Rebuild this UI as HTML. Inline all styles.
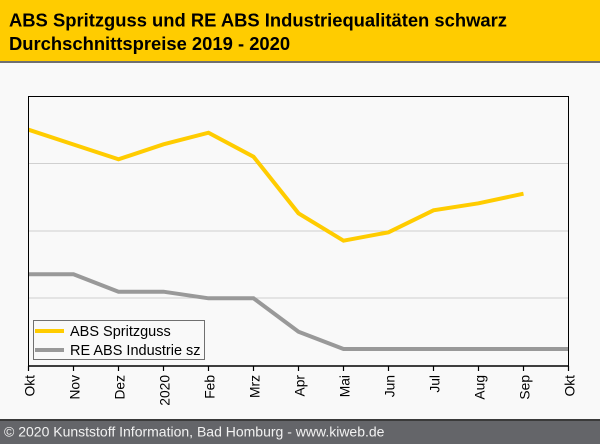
<!DOCTYPE html>
<html><head><meta charset="utf-8"><style>
html,body{margin:0;padding:0;background:#f9f9f9;}
svg{display:block;}
text{font-family:"Liberation Sans",Arial,sans-serif;}
</style></head><body>
<svg width="600" height="444" viewBox="0 0 600 444" xmlns="http://www.w3.org/2000/svg">
<rect x="0" y="0" width="600" height="444" fill="#f9f9f9"/>
<rect x="0" y="0" width="600" height="61" fill="#ffcc00"/>
<rect x="0" y="61" width="600" height="2" fill="#707070"/>
<text x="9" y="26.5" font-size="18.4" font-weight="bold" fill="#000">ABS Spritzguss und RE ABS Industriequalitäten schwarz</text>
<text x="9" y="50" font-size="18.4" font-weight="bold" fill="#000">Durchschnittspreise 2019 - 2020</text>
<g stroke="#d0d0d0" stroke-width="1">
<line x1="29" y1="163.5" x2="568" y2="163.5"/>
<line x1="29" y1="231" x2="568" y2="231"/>
<line x1="29" y1="298" x2="568" y2="298"/>
</g>
<polyline fill="none" stroke="#ffcc00" stroke-width="4" stroke-linejoin="miter" points="28.5,129.7 73.5,144.5 118.5,159.3 163.5,144.3 208.5,132.7 253.5,156.7 298.5,213.3 343.5,240.7 388.5,232.3 433.5,210.3 478.5,203.3 523.5,193.7"/>
<polyline fill="none" stroke="#999999" stroke-width="4" points="28.5,274.3 73.5,274.3 118.5,291.7 163.5,291.7 208.5,298.3 253.5,298.3 298.5,331.7 343.5,349 388.5,349 433.5,349 478.5,349 523.5,349 568.5,349"/>
<rect x="28.5" y="96.5" width="540" height="269.5" fill="none" stroke="#000" stroke-width="1"/>
<line x1="28" y1="366" x2="569" y2="366" stroke="#000" stroke-width="1.5"/>
<g stroke="#000" stroke-width="1.2">
<line x1="28.5" y1="366" x2="28.5" y2="371"/>
<line x1="73.5" y1="366" x2="73.5" y2="371"/>
<line x1="118.5" y1="366" x2="118.5" y2="371"/>
<line x1="163.5" y1="366" x2="163.5" y2="371"/>
<line x1="208.5" y1="366" x2="208.5" y2="371"/>
<line x1="253.5" y1="366" x2="253.5" y2="371"/>
<line x1="298.5" y1="366" x2="298.5" y2="371"/>
<line x1="343.5" y1="366" x2="343.5" y2="371"/>
<line x1="388.5" y1="366" x2="388.5" y2="371"/>
<line x1="433.5" y1="366" x2="433.5" y2="371"/>
<line x1="478.5" y1="366" x2="478.5" y2="371"/>
<line x1="523.5" y1="366" x2="523.5" y2="371"/>
<line x1="568.5" y1="366" x2="568.5" y2="371"/>
</g>
<g font-size="13.8" fill="#000" text-anchor="end">
<text transform="translate(34.5,375) rotate(-90)">Okt</text>
<text transform="translate(79.5,375) rotate(-90)">Nov</text>
<text transform="translate(124.5,375) rotate(-90)">Dez</text>
<text transform="translate(169.5,375) rotate(-90)">2020</text>
<text transform="translate(214.5,375) rotate(-90)">Feb</text>
<text transform="translate(259.5,375) rotate(-90)">Mrz</text>
<text transform="translate(304.5,375) rotate(-90)">Apr</text>
<text transform="translate(349.5,375) rotate(-90)">Mai</text>
<text transform="translate(394.5,375) rotate(-90)">Jun</text>
<text transform="translate(439.5,375) rotate(-90)">Jul</text>
<text transform="translate(484.5,375) rotate(-90)">Aug</text>
<text transform="translate(529.5,375) rotate(-90)">Sep</text>
<text transform="translate(574.5,375) rotate(-90)">Okt</text>
</g>
<rect x="33.5" y="320.5" width="171" height="39" fill="#f9f9f9" stroke="#707070" stroke-width="1"/>
<line x1="35" y1="331" x2="64" y2="331" stroke="#ffcc00" stroke-width="4"/>
<line x1="35" y1="350" x2="64" y2="350" stroke="#999999" stroke-width="4"/>
<text x="70" y="336" font-size="14.5" fill="#000">ABS Spritzguss</text>
<text x="70" y="355" font-size="14.5" fill="#000">RE ABS Industrie sz</text>
<rect x="0" y="419" width="600" height="2" fill="#3a3a3a"/>
<rect x="0" y="421" width="600" height="23" fill="#646569"/>
<text x="4" y="436.5" font-size="14" fill="#f2f2f2">© 2020 Kunststoff Information, Bad Homburg - www.kiweb.de</text>
</svg>
</body></html>
